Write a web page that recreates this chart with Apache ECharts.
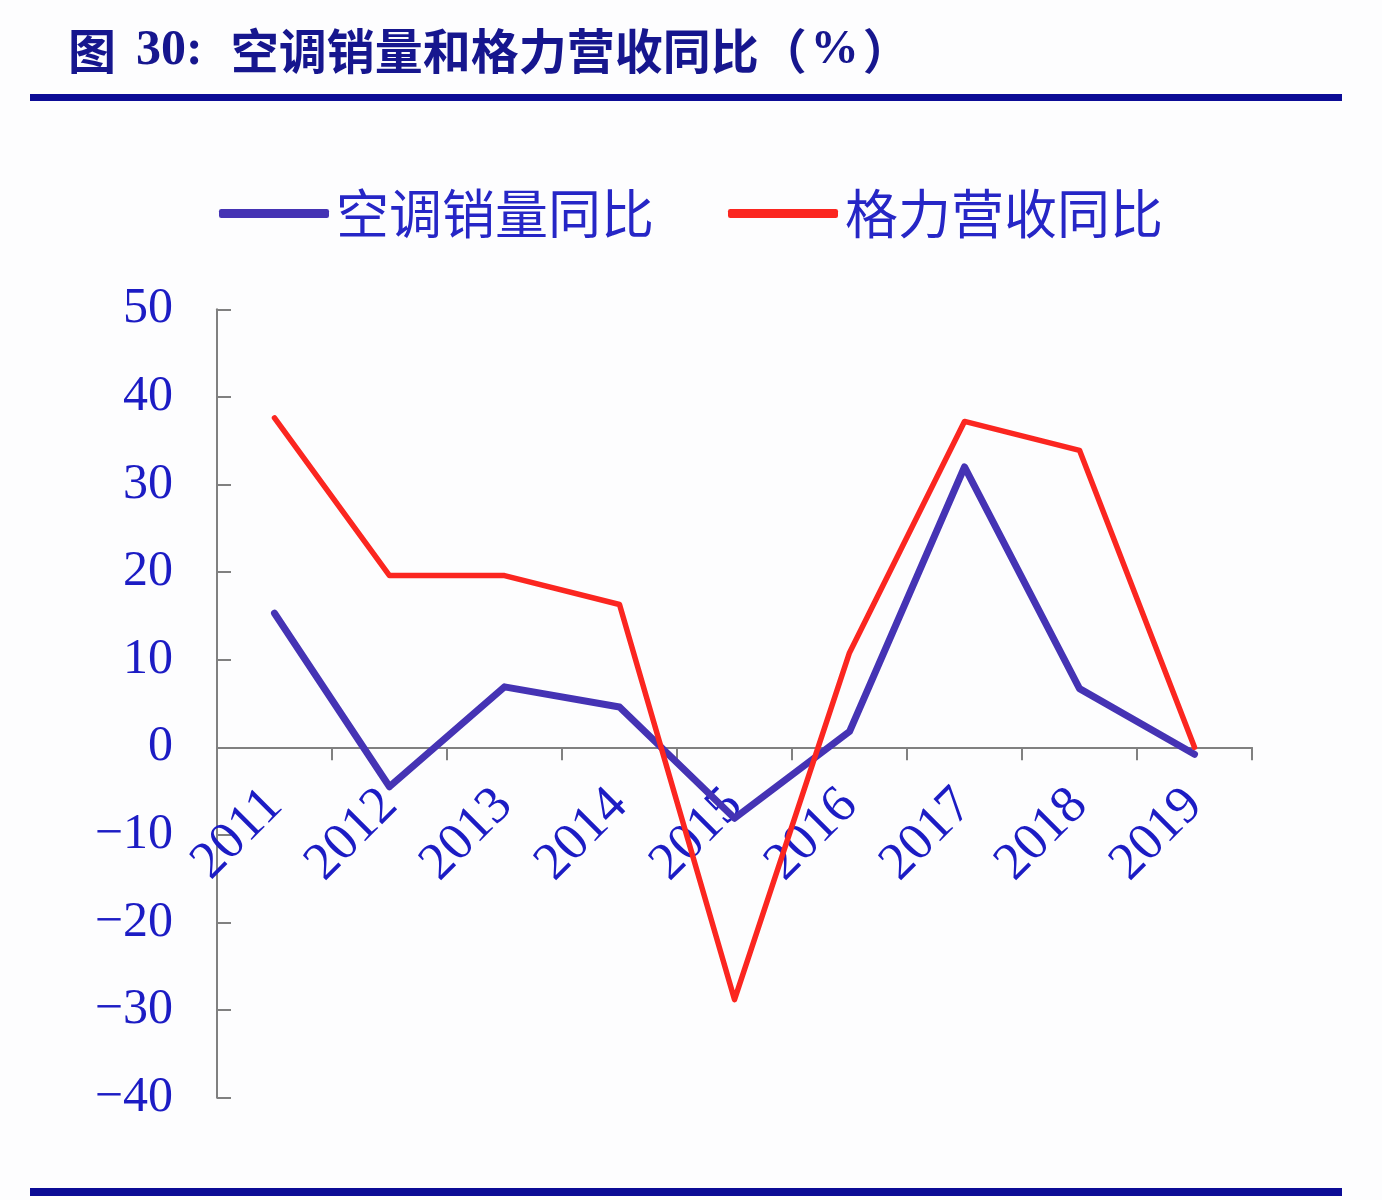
<!DOCTYPE html>
<html>
<head>
<meta charset="utf-8">
<script src="https://cdn.jsdelivr.net/npm/echarts@6/dist/echarts.min.js"></script>
<style>
  html, body { margin: 0; padding: 0; background: #fdfdfe; }
  #chart { width: 1382px; height: 1200px; }
</style>
</head>
<body>
<div id="chart"></div>
<script>
// categories and values
const years = ["2011", "2012", "2013", "2014", "2015", "2016", "2017", "2018", "2019"];
const acSales = [15.3, -4.5, 6.9, 4.6, -8.1, 1.8, 32.0, 6.7, -0.8];
const greeRevenue = [37.6, 19.6, 19.6, 16.3, -28.8, 10.8, 37.2, 33.9, 0];

const seriesNames = ["空调销量同比", "格力营收同比"];

const yMin = -40;
const yMax = 50;

const chart = echarts.init(document.getElementById("chart"));

const labelBlue = "#1c1cc4";
const axisGray = "#808080";

// plot area, used to put the year labels on the zero line
const gridTop = 309.3;
const gridBottom = 102.3;
const plotHeight = 1200 - gridTop - gridBottom;
const zeroOffset = plotHeight * (0 - yMin) / (yMax - yMin);

const option = {
    backgroundColor: "#fdfdfe",
    animation: false,
    title: {
        text: "{a|图}{b|30:}{c|空调销量和格力营收同比}{d|（}{e|%}{d|）}",
        left: 63,
        top: 21,
        textStyle: {
            rich: {
                a: { fontFamily: "Noto Sans CJK SC", fontSize: 48, fontWeight: "bold", color: "#16168e" },
                b: { fontFamily: "Liberation Serif", fontSize: 50, fontWeight: "bold", color: "#16168e", padding: [0, 0, 0, 20] },
                c: { fontFamily: "Noto Sans CJK SC", fontSize: 48, fontWeight: "bold", color: "#16168e", padding: [0, 0, 0, 28] },
                d: { fontFamily: "Noto Sans CJK SC", fontSize: 48, fontWeight: "bold", color: "#16168e" },
                e: { fontFamily: "Liberation Serif", fontSize: 48, fontWeight: "bold", color: "#16168e", padding: [0, 4, 0, 4] }
            }
        }
    },
    legend: {
        left: 214,
        top: 182,
        itemWidth: 110,
        itemHeight: 9,
        itemGap: 74,
        icon: "roundRect",
        textStyle: {
            fontFamily: "Noto Sans CJK SC",
            fontSize: 53,
            color: "#2626c6",
            padding: [0, 0, 0, 2]
        },
        data: seriesNames
    },
    grid: {
        left: 217,
        right: 130,
        top: gridTop,
        bottom: gridBottom,
        outerBoundsMode: "none",
        containLabel: false
    },
    xAxis: [
        {
            // axis line and ticks, sitting on zero
            type: "category",
            data: years,
            position: "top",
            boundaryGap: true,
            axisLine: { onZero: true, lineStyle: { color: axisGray, width: 2 } },
            axisTick: { show: true, inside: true, length: 13, lineStyle: { color: axisGray, width: 2 } },
            axisLabel: { show: false },
            z: 1
        },
        {
            // year labels just under the zero line
            type: "category",
            data: years,
            position: "bottom",
            offset: -zeroOffset,
            boundaryGap: true,
            axisLine: { show: false, onZero: false },
            axisTick: { show: false },
            axisLabel: {
                rotate: 45,
                margin: 50,
                fontFamily: "Liberation Serif",
                fontSize: 53,
                color: labelBlue
            },
            z: 1
        }
    ],
    yAxis: {
        type: "value",
        min: yMin,
        max: yMax,
        interval: 10,
        splitLine: { show: false },
        axisLine: { show: true, lineStyle: { color: axisGray, width: 2 } },
        axisTick: { show: true, inside: true, length: 14, lineStyle: { color: axisGray, width: 2 } },
        axisLabel: {
            margin: 44,
            fontFamily: "Liberation Serif",
            fontSize: 50,
            color: labelBlue,
            padding: [5, 0, 0, 0],
            formatter: v => (v < 0 ? "\u2212" + (-v) : String(v))
        }
    },
    series: [
        {
            name: seriesNames[0],
            type: "line",
            data: acSales,
            xAxisIndex: 0,
            symbol: "none",
            color: "#4533b4",
            lineStyle: { width: 7, color: "#4533b4", cap: "round", join: "round" },
            z: 3
        },
        {
            name: seriesNames[1],
            type: "line",
            data: greeRevenue,
            xAxisIndex: 0,
            symbol: "none",
            color: "#fb2620",
            lineStyle: { width: 5.5, color: "#fb2620", cap: "round", join: "round" },
            z: 4
        }
    ],
    graphic: [
        {
            type: "rect",
            shape: { x: 30, y: 94, width: 1312, height: 7 },
            style: { fill: "#0c0c96" }
        },
        {
            type: "rect",
            shape: { x: 30, y: 1188, width: 1312, height: 8 },
            style: { fill: "#0c0c96" }
        }
    ]
};

chart.setOption(option);
</script>
</body>
</html>
